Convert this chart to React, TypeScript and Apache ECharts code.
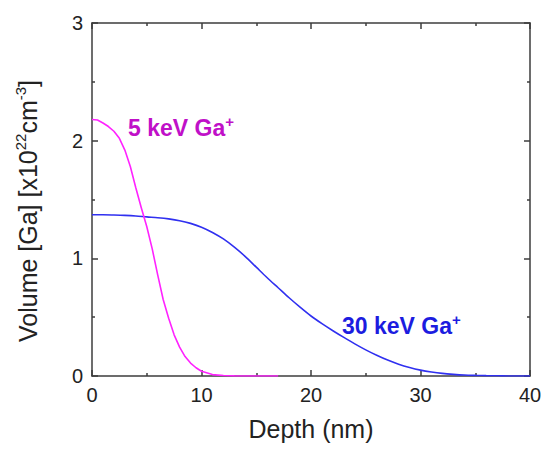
import React, { useEffect, useRef } from "react";
import * as echarts from "echarts";

// Depth (nm) and Ga volume concentration (x10^22 cm^-3)
const depth5keV = [0, 0.5, 1, 1.5, 2, 2.5, 3, 3.5, 4, 4.5, 5, 5.5, 6, 6.5, 7, 7.5, 8, 8.5, 9, 9.5, 10, 11, 12, 13, 14, 15, 16, 17];
const conc5keV = [2.18, 2.175, 2.15, 2.12, 2.08, 2.02, 1.92, 1.78, 1.6, 1.43, 1.27, 1.08, 0.86, 0.65, 0.49, 0.35, 0.245, 0.165, 0.11, 0.07, 0.04, 0.012, 0.004, 0.001, 0, 0, 0, 0];

const depth30keV = [0, 1, 2, 3, 4, 5, 6, 7, 8, 9, 10, 11, 12, 13, 14, 15, 16, 17, 18, 19, 20, 21, 22, 23, 24, 25, 26, 27, 28, 29, 30, 31, 32, 33, 34, 35, 36, 37, 38, 39, 40];
const conc30keV = [1.37, 1.37, 1.368, 1.365, 1.36, 1.352, 1.345, 1.335, 1.32, 1.297, 1.265, 1.22, 1.165, 1.095, 1.015, 0.925, 0.835, 0.75, 0.665, 0.585, 0.51, 0.445, 0.385, 0.328, 0.273, 0.222, 0.176, 0.135, 0.1, 0.072, 0.05, 0.034, 0.022, 0.014, 0.008, 0.005, 0.003, 0.0015, 0.0005, 0, 0];

const xTicks = { min: 0, max: 40, interval: 10 };
const yTicks = { min: 0, max: 3, interval: 1 };

const FONT = "'Liberation Sans', Arial, sans-serif";
const AXIS_COLOR = "#3c3c3c";

function axisBase(position: string, showLabel: boolean) {
  return {
    type: "value",
    position,
    axisLine: { show: true, onZero: false, lineStyle: { color: AXIS_COLOR, width: 1.5 } },
    axisTick: { show: true, inside: true, length: 6, lineStyle: { color: AXIS_COLOR, width: 1.5 } },
    minorTick: { show: true, splitNumber: 2, length: 3, lineStyle: { color: AXIS_COLOR, width: 1.5 } },
    splitLine: { show: false },
    minorSplitLine: { show: false },
    axisLabel: showLabel
      ? { show: true, fontSize: 20, color: "#222", margin: 9, fontFamily: FONT }
      : { show: false },
  };
}

export default function App() {
  const ref = useRef<HTMLDivElement>(null);

  useEffect(() => {
    if (!ref.current) return;
    const chart = echarts.init(ref.current, undefined, { renderer: "svg" });

    const s5 = depth5keV.map((d, i) => [d, conc5keV[i]]);
    const s30 = depth30keV.map((d, i) => [d, conc30keV[i]]);

    chart.setOption({
      animation: false,
      backgroundColor: "#ffffff",
      grid: { left: 92, right: 19, top: 23, bottom: 77, containLabel: false },
      xAxis: [
        {
          ...axisBase("bottom", true),
          ...xTicks,
          name: "Depth (nm)",
          nameLocation: "middle",
          nameGap: 40,
          nameTextStyle: { fontSize: 25, color: "#222", fontFamily: FONT },
        },
        { ...axisBase("top", false), ...xTicks },
      ],
      yAxis: [
        { ...axisBase("left", true), ...yTicks },
        { ...axisBase("right", false), ...yTicks },
      ],
      graphic: [
        {
          type: "text",
          x: 28,
          y: 211,
          rotation: Math.PI / 2,
          style: {
            text: "{n|Volume [Ga] [x10}{s|22}{n|cm}{s|-3}{n|]}",
            align: "center",
            verticalAlign: "middle",
            rich: {
              n: { fontSize: 25, fontFamily: FONT, fill: "#222", lineHeight: 30, verticalAlign: "middle" },
              s: { fontSize: 15, fontFamily: FONT, fill: "#222", lineHeight: 15, verticalAlign: "top" },
            },
          },
        },
        {
          type: "text",
          x: 128,
          y: 128,
          style: {
            text: "{n|5 keV Ga}{s|+}",
            align: "left",
            verticalAlign: "middle",
            rich: {
              n: { fontSize: 23, fontWeight: "bold", fontFamily: FONT, fill: "#c010c8", lineHeight: 28 },
              s: { fontSize: 15, fontWeight: "bold", fontFamily: FONT, fill: "#c010c8", lineHeight: 15, verticalAlign: "top" },
            },
          },
        },
        {
          type: "text",
          x: 342,
          y: 326,
          style: {
            text: "{n|30 keV Ga}{s|+}",
            align: "left",
            verticalAlign: "middle",
            rich: {
              n: { fontSize: 23, fontWeight: "bold", fontFamily: FONT, fill: "#1c1ce0", lineHeight: 28 },
              s: { fontSize: 15, fontWeight: "bold", fontFamily: FONT, fill: "#1c1ce0", lineHeight: 15, verticalAlign: "top" },
            },
          },
        },
      ],
      series: [
        {
          name: "30 keV Ga+",
          type: "line",
          data: s30,
          showSymbol: false,
          smooth: 0.3,
          lineStyle: { color: "#3030f0", width: 1.6 },
          z: 2,
        },
        {
          name: "5 keV Ga+",
          type: "line",
          data: s5,
          showSymbol: false,
          smooth: false,
          lineStyle: { color: "#ff22ff", width: 1.6 },
          z: 3,
        },
      ],
    });

    return () => chart.dispose();
  }, []);

  return (
    <div
      ref={ref}
      style={{ position: "fixed", left: 0, top: 0, width: 549, height: 453, background: "#fff" }}
    />
  );
}
